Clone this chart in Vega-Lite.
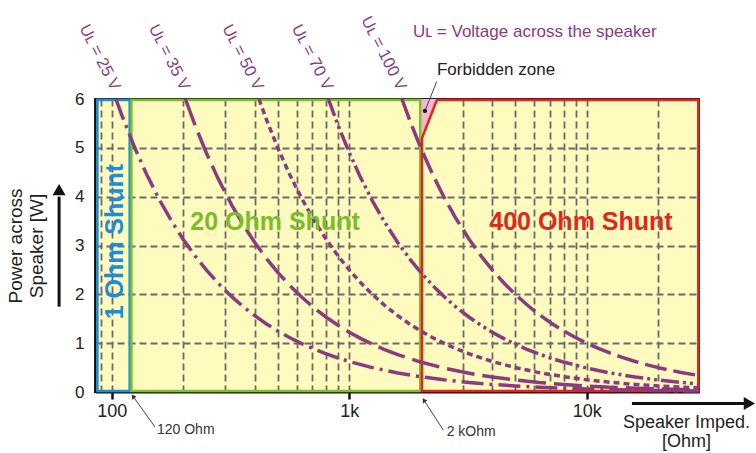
{
"$schema":"https://vega.github.io/schema/vega-lite/v6.json",
"width":604,"height":293,
"autosize":{"type":"none"},
"padding":{"left":95,"top":99,"right":57,"bottom":61},
"config":{"font":"Liberation Sans","view":{"fill":"#FFFBBF","stroke":"#222","strokeWidth":2}},
"datasets":{
"zones":[{"zone":"1 Ohm","R":87,"R2":119,"P":0.02,"P2":5.98},{"zone":"20 Ohm","R":121,"R2":1990,"P":0.02,"P2":5.98}],
"red":[{"R":2025,"P":5.2},{"R":2340,"P":5.98},{"R":29500,"P":5.98}],
"forbidden":[{"R":2000,"P":5.2,"P2":6},{"R":2340,"P":6,"P2":6}],
"curves":[
{"U":"25 V","R":104.17,"P":6},{"U":"25 V","R":110,"P":5.682},{"U":"25 V","R":125,"P":5},{"U":"25 V","R":140,"P":4.464},{"U":"25 V","R":160,"P":3.906},{"U":"25 V","R":180,"P":3.472},{"U":"25 V","R":200,"P":3.125},{"U":"25 V","R":225,"P":2.778},{"U":"25 V","R":250,"P":2.5},{"U":"25 V","R":280,"P":2.232},{"U":"25 V","R":320,"P":1.953},{"U":"25 V","R":360,"P":1.736},{"U":"25 V","R":400,"P":1.563},{"U":"25 V","R":450,"P":1.389},{"U":"25 V","R":500,"P":1.25},{"U":"25 V","R":560,"P":1.116},{"U":"25 V","R":630,"P":0.992},{"U":"25 V","R":710,"P":0.88},{"U":"25 V","R":800,"P":0.781},{"U":"25 V","R":900,"P":0.694},{"U":"25 V","R":1000,"P":0.625},{"U":"25 V","R":1250,"P":0.5},{"U":"25 V","R":1600,"P":0.391},{"U":"25 V","R":2000,"P":0.313},{"U":"25 V","R":2500,"P":0.25},{"U":"25 V","R":3200,"P":0.195},{"U":"25 V","R":4000,"P":0.156},{"U":"25 V","R":5000,"P":0.125},{"U":"25 V","R":6300,"P":0.099},{"U":"25 V","R":8000,"P":0.078},{"U":"25 V","R":10000,"P":0.063},{"U":"25 V","R":12500,"P":0.05},{"U":"25 V","R":16000,"P":0.039},{"U":"25 V","R":20000,"P":0.031},{"U":"25 V","R":25000,"P":0.025},{"U":"25 V","R":29500,"P":0.021},
{"U":"35 V","R":204.17,"P":6},{"U":"35 V","R":225,"P":5.444},{"U":"35 V","R":250,"P":4.9},{"U":"35 V","R":280,"P":4.375},{"U":"35 V","R":320,"P":3.828},{"U":"35 V","R":360,"P":3.403},{"U":"35 V","R":400,"P":3.063},{"U":"35 V","R":450,"P":2.722},{"U":"35 V","R":500,"P":2.45},{"U":"35 V","R":560,"P":2.188},{"U":"35 V","R":630,"P":1.944},{"U":"35 V","R":710,"P":1.725},{"U":"35 V","R":800,"P":1.531},{"U":"35 V","R":900,"P":1.361},{"U":"35 V","R":1000,"P":1.225},{"U":"35 V","R":1120,"P":1.094},{"U":"35 V","R":1250,"P":0.98},{"U":"35 V","R":1400,"P":0.875},{"U":"35 V","R":1600,"P":0.766},{"U":"35 V","R":2000,"P":0.613},{"U":"35 V","R":2500,"P":0.49},{"U":"35 V","R":3200,"P":0.383},{"U":"35 V","R":4000,"P":0.306},{"U":"35 V","R":5000,"P":0.245},{"U":"35 V","R":6300,"P":0.194},{"U":"35 V","R":8000,"P":0.153},{"U":"35 V","R":10000,"P":0.123},{"U":"35 V","R":12500,"P":0.098},{"U":"35 V","R":16000,"P":0.077},{"U":"35 V","R":20000,"P":0.061},{"U":"35 V","R":25000,"P":0.049},{"U":"35 V","R":29500,"P":0.042},
{"U":"50 V","R":416.67,"P":6},{"U":"50 V","R":450,"P":5.556},{"U":"50 V","R":500,"P":5},{"U":"50 V","R":560,"P":4.464},{"U":"50 V","R":630,"P":3.968},{"U":"50 V","R":710,"P":3.521},{"U":"50 V","R":800,"P":3.125},{"U":"50 V","R":900,"P":2.778},{"U":"50 V","R":1000,"P":2.5},{"U":"50 V","R":1120,"P":2.232},{"U":"50 V","R":1250,"P":2},{"U":"50 V","R":1400,"P":1.786},{"U":"50 V","R":1600,"P":1.563},{"U":"50 V","R":1800,"P":1.389},{"U":"50 V","R":2000,"P":1.25},{"U":"50 V","R":2250,"P":1.111},{"U":"50 V","R":2500,"P":1},{"U":"50 V","R":2800,"P":0.893},{"U":"50 V","R":3200,"P":0.781},{"U":"50 V","R":4000,"P":0.625},{"U":"50 V","R":5000,"P":0.5},{"U":"50 V","R":6300,"P":0.397},{"U":"50 V","R":8000,"P":0.313},{"U":"50 V","R":10000,"P":0.25},{"U":"50 V","R":12500,"P":0.2},{"U":"50 V","R":16000,"P":0.156},{"U":"50 V","R":20000,"P":0.125},{"U":"50 V","R":25000,"P":0.1},{"U":"50 V","R":29500,"P":0.085},
{"U":"70 V","R":816.67,"P":6},{"U":"70 V","R":900,"P":5.444},{"U":"70 V","R":1000,"P":4.9},{"U":"70 V","R":1120,"P":4.375},{"U":"70 V","R":1250,"P":3.92},{"U":"70 V","R":1400,"P":3.5},{"U":"70 V","R":1600,"P":3.063},{"U":"70 V","R":1800,"P":2.722},{"U":"70 V","R":2000,"P":2.45},{"U":"70 V","R":2250,"P":2.178},{"U":"70 V","R":2500,"P":1.96},{"U":"70 V","R":2800,"P":1.75},{"U":"70 V","R":3200,"P":1.531},{"U":"70 V","R":3600,"P":1.361},{"U":"70 V","R":4000,"P":1.225},{"U":"70 V","R":4500,"P":1.089},{"U":"70 V","R":5000,"P":0.98},{"U":"70 V","R":5600,"P":0.875},{"U":"70 V","R":6300,"P":0.778},{"U":"70 V","R":7100,"P":0.69},{"U":"70 V","R":8000,"P":0.613},{"U":"70 V","R":10000,"P":0.49},{"U":"70 V","R":12500,"P":0.392},{"U":"70 V","R":16000,"P":0.306},{"U":"70 V","R":20000,"P":0.245},{"U":"70 V","R":25000,"P":0.196},{"U":"70 V","R":29500,"P":0.166},
{"U":"100 V","R":1666.67,"P":6},{"U":"100 V","R":1800,"P":5.556},{"U":"100 V","R":2000,"P":5},{"U":"100 V","R":2250,"P":4.444},{"U":"100 V","R":2500,"P":4},{"U":"100 V","R":2800,"P":3.571},{"U":"100 V","R":3200,"P":3.125},{"U":"100 V","R":3600,"P":2.778},{"U":"100 V","R":4000,"P":2.5},{"U":"100 V","R":4500,"P":2.222},{"U":"100 V","R":5000,"P":2},{"U":"100 V","R":5600,"P":1.786},{"U":"100 V","R":6300,"P":1.587},{"U":"100 V","R":7100,"P":1.408},{"U":"100 V","R":8000,"P":1.25},{"U":"100 V","R":9000,"P":1.111},{"U":"100 V","R":10000,"P":1},{"U":"100 V","R":11200,"P":0.893},{"U":"100 V","R":12500,"P":0.8},{"U":"100 V","R":14000,"P":0.714},{"U":"100 V","R":16000,"P":0.625},{"U":"100 V","R":18000,"P":0.556},{"U":"100 V","R":20000,"P":0.5},{"U":"100 V","R":22500,"P":0.444},{"U":"100 V","R":25000,"P":0.4},{"U":"100 V","R":29500,"P":0.339}
],
"voltlabels":[{"label":"Uʟ = 25 V","R":104.17,"P":6.2},{"label":"Uʟ = 35 V","R":204.17,"P":6.2},{"label":"Uʟ = 50 V","R":416.67,"P":6.2},{"label":"Uʟ = 70 V","R":816.67,"P":6.2},{"label":"Uʟ = 100 V","R":1666.67,"P":6.2}],
"leaders":[{"R":152.1,"P":-0.717,"R2":122.9,"P2":-0.088},{"R":2488,"P":-0.778,"R2":2062,"P2":-0.166},{"R":2334,"P":6.355,"R2":2084,"P2":5.755}],
"arrows":[{"R":60,"P":1.747,"R2":60,"P2":4.0},{"R":15500,"P":-0.2355,"R2":46380,"P2":-0.2355}]
},
"encoding":{
"x":{"field":"R","type":"quantitative","scale":{"type":"log","domain":[85,29700],"nice":false},
"axis":{"values":[90,100,200,300,400,500,600,700,800,900,1000,2000,3000,4000,5000,6000,7000,8000,9000,10000,20000],
"labelExpr":"datum.value == 100 ? '100' : datum.value == 1000 ? '1k' : datum.value == 10000 ? '10k' : ''",
"labelOverlap":false,"labelFlush":false,"labelFontSize":18,"labelColor":"#222","labelPadding":3,
"tickSize":7,"tickWidth":2.5,"tickColor":"#111",
"tickOpacity":{"condition":{"test":"datum.value == 100 || datum.value == 1000 || datum.value == 10000","value":1},"value":0},
"grid":true,"gridColor":"#6a6a6a","gridDash":[7,4],"gridWidth":1.8,"domainColor":"#111","domainWidth":2,
"title":["Speaker Imped.","[Ohm]"],"titleFontSize":18,"titleFontWeight":"normal","titleColor":"#222","titleX":591,"titleY":21,"titleAlign":"center","titleBaseline":"top","titleLineHeight":19}},
"y":{"field":"P","type":"quantitative","scale":{"domain":[0,6],"nice":false,"zero":false},
"axis":{"values":[0,1,2,3,4,5,6],"ticks":false,"tickSize":0,"labelPadding":11,"labelFontSize":17,"labelColor":"#222",
"grid":true,"gridColor":"#6a6a6a","gridDash":[7,4],"gridWidth":1.8,
"gridOpacity":{"condition":{"test":"datum.value == 0 || datum.value == 6","value":0},"value":1},
"domainColor":"#111","domainWidth":2,
"title":["Power across","Speaker [W]"],"titleFontSize":19,"titleFontWeight":"normal","titleColor":"#222","titlePadding":28,"titleLineHeight":21}}
},
"layer":[
{"data":{"name":"forbidden"},"mark":{"type":"area","fill":"#F4B6D2","stroke":null},"encoding":{"y2":{"field":"P2"}}},
{"data":{"name":"zones"},"transform":[{"filter":"datum.zone == '1 Ohm'"}],"mark":{"type":"rect","filled":false,"stroke":"#1A8FD8","strokeWidth":2.5},"encoding":{"x2":{"field":"R2"},"y2":{"field":"P2"}}},
{"data":{"name":"zones"},"transform":[{"filter":"datum.zone == '20 Ohm'"}],"mark":{"type":"rect","filled":false,"stroke":"#7DC02E","strokeWidth":2.5},"encoding":{"x2":{"field":"R2"},"y2":{"field":"P2"}}},
{"data":{"name":"red"},"mark":{"type":"area","fillOpacity":0,"fill":"#FFFBBF","stroke":"#E5231B","strokeWidth":2.5},"encoding":{"y2":{"datum":0.02}}},
{"data":{"name":"curves"},"mark":{"type":"line","color":"#8B3A80","strokeWidth":3.5,"strokeCap":"butt"},
"encoding":{"detail":{"field":"U"},"strokeDash":{"field":"U","type":"nominal","legend":null,
"scale":{"domain":["25 V","35 V","50 V","70 V","100 V"],"range":[[22,6,3,6],[28,8],[6,4],[18,4,3,4,3,4],[22,7]]}}}},
{"data":{"name":"voltlabels"},"mark":{"type":"text","align":"right","baseline":"middle","angle":63,"fontSize":16.5,"color":"#8B3A80"},"encoding":{"text":{"field":"label"}}},
{"data":{"values":[{"label":"20 Ohm Shunt","R":487,"P":3.48}]},"mark":{"type":"text","fontSize":25,"fontWeight":"bold","color":"#78BE28","align":"center","baseline":"middle"},"encoding":{"text":{"field":"label"}}},
{"data":{"values":[{"label":"400 Ohm Shunt","R":9456,"P":3.48}]},"mark":{"type":"text","fontSize":25,"fontWeight":"bold","color":"#E2261C","align":"center","baseline":"middle"},"encoding":{"text":{"field":"label"}}},
{"data":{"values":[{"label":"1 Ohm Shunt","R":103.2,"P":3.08}]},"mark":{"type":"text","fontSize":25,"fontWeight":"bold","color":"#1A8FD8","align":"center","baseline":"middle","angle":270},"encoding":{"text":{"field":"label"}}},
{"data":{"values":[{"label":"Forbidden zone","R":2341,"P":6.594}]},"mark":{"type":"text","fontSize":17,"color":"#222","align":"left","baseline":"middle"},"encoding":{"text":{"field":"label"}}},
{"data":{"values":[{"label":"Uʟ = Voltage across the speaker","R":1855,"P":7.362}]},"mark":{"type":"text","fontSize":17,"color":"#8B3A80","align":"left","baseline":"middle"},"encoding":{"text":{"field":"label"}}},
{"data":{"values":[{"label":"120 Ohm","R":155,"P":-0.778},{"label":"2 kOhm","R":2572,"P":-0.819}]},"mark":{"type":"text","fontSize":14,"color":"#333","align":"left","baseline":"middle"},"encoding":{"text":{"field":"label"}}},
{"data":{"name":"leaders"},"mark":{"type":"rule","color":"#444","strokeWidth":1},"encoding":{"x2":{"field":"R2"},"y2":{"field":"P2"}}},
{"data":{"values":[{"R":122.9,"P":-0.088}]},"mark":{"type":"point","shape":"triangle-up","filled":true,"color":"#333","size":28,"angle":324,"opacity":1}},
{"data":{"values":[{"R":2062,"P":-0.166}]},"mark":{"type":"point","shape":"triangle-up","filled":true,"color":"#333","size":28,"angle":327,"opacity":1}},
{"data":{"values":[{"R":2084,"P":5.755}]},"mark":{"type":"point","shape":"circle","filled":true,"color":"#111","size":18,"opacity":1}},
{"data":{"name":"arrows"},"mark":{"type":"rule","color":"#111","strokeWidth":3},"encoding":{"x2":{"field":"R2"},"y2":{"field":"P2"}}},
{"data":{"values":[{"R":60,"P":4.145}]},"mark":{"type":"point","shape":"triangle-up","filled":true,"color":"#111","size":169,"opacity":1}},
{"data":{"values":[{"R":48400,"P":-0.2355}]},"mark":{"type":"point","shape":"triangle-right","filled":true,"color":"#111","size":169,"opacity":1}}
]
}
